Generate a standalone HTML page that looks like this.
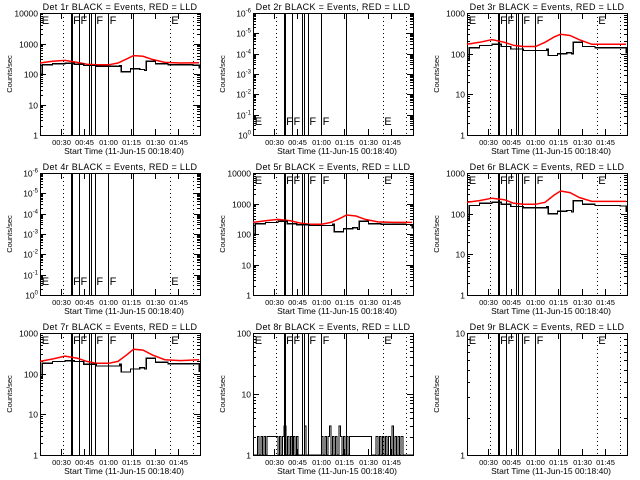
<!DOCTYPE html>
<html><head><meta charset="utf-8"><style>
html,body{margin:0;padding:0;background:#fff;}
svg{display:block;font-family:"Liberation Sans",sans-serif;}
</style></head><body>
<svg id="chart" width="640" height="480" viewBox="0 0 640 480" xmlns="http://www.w3.org/2000/svg"></svg>
<script>
// time knots in minutes since 00:18:40
const blackTimes = [0,1.5,8,16,22,28,36,44,51,52,58,64,67,68,74,82,90,98,102];
const redTimes = [0,8,16,24,30,36,44,50,56,60,66,72,80,90,102];
const det1Black = [100,200,220,225,210,190,180,180,190,120,150,140,130,260,220,200,200,195,150];
const det1Red = [230,260,280,240,210,200,200,230,320,400,380,300,240,230,235];
const det3Black = [70,140,160,170,150,130,120,120,130,90,100,105,100,190,150,140,140,140,100];
const det3Red = [170,190,220,190,160,150,150,190,260,300,280,220,170,170,170];
const det5Black = [100,220,240,260,220,200,190,190,210,120,150,160,140,260,220,210,210,205,150];
const det5Red = [240,270,300,270,230,210,210,240,330,420,390,300,250,240,240];
const det6Black = [70,160,180,190,170,150,140,140,150,100,115,120,110,210,170,160,160,155,110];
const det6Red = [190,210,240,220,180,170,170,190,290,360,330,250,200,200,200];
const det7Black = [80,180,200,210,200,170,155,155,170,110,130,140,130,240,190,175,175,175,110];
const det7Red = [200,230,270,240,200,180,180,200,300,400,380,290,220,210,220];
// det 8: per-minute counts
const det8Black = [1,1,1,2,1,2,1,2,1,2,2,2,2,2,2,2,1,2,1,2,3,1,2,1,2,1,2,1,2,1,1,1,1,3,1,1,1,1,1,1,1,1,1,1,2,1,2,1,2,3,1,2,1,2,1,3,2,1,2,1,2,1,2,2,2,2,2,2,2,2,2,2,2,2,2,2,1,1,1,2,1,2,1,2,1,2,1,2,1,3,1,2,1,2,1,2,1,1,1,1,1,1,1,1];
const tickTimes = [13.5,28.5,43.5,58.5,73.5,88.5];
const tickLabels = ["00:30","00:45","01:00","01:15","01:30","01:45"];
const solidFlagTimes = [19.9,20.5,25,31.4,32.7,35.3,43.6,59.6];
const dottedTimes = [14.7,83.3,98];
const flagTimes = [0.5,20.6,25.3,35.5,44,83.5];
const flagLetters = ["E","F","F","F","F","E"];

const svg = document.getElementById('chart');
const NS = "http://www.w3.org/2000/svg";
function mk(tag, attrs, parent){const e=document.createElementNS(NS,tag);for(const k in attrs)e.setAttribute(k,attrs[k]);(parent||svg).appendChild(e);return e;}

const panels = [
 {n:1,x:40,y:13,dec:4,black:det1Black,red:det1Red,flagY:'top'},
 {n:2,x:253,y:13,dec:6,neg:true,flagY:'low'},
 {n:3,x:467,y:13,dec:3,black:det3Black,red:det3Red,flagY:'top'},
 {n:4,x:40,y:173,dec:6,neg:true,flagY:'low'},
 {n:5,x:253,y:173,dec:4,black:det5Black,red:det5Red,flagY:'top'},
 {n:6,x:467,y:173,dec:3,black:det6Black,red:det6Red,flagY:'top'},
 {n:7,x:40,y:333,dec:3,black:det7Black,red:det7Red,flagY:'top'},
 {n:8,x:253,y:333,dec:2,per:det8Black,flagY:'top'},
 {n:9,x:467,y:333,dec:1,flagY:'top'}
];
const W=160,H=122,PX=1.56;
const snap = v=>Math.round(v)+0.5;

panels.forEach(p=>{
  const g = mk('g',{'shape-rendering':'crispEdges'});
  
  
  const xs = t=>p.x+t*PX;
  const ys = v=>p.y+H-Math.log10(v)/p.dec*H;
  const ti = mk('text',{x:p.x+W/2,y:p.y-3,'text-anchor':'middle','font-size':'9','letter-spacing':'0.3'},g);
  ti.textContent = 'Det '+p.n+'r BLACK = Events, RED = LLD';
  
  
  const box = mk('rect',{x:p.x+0.5,y:p.y+0.5,width:W,height:H,fill:'none',stroke:'#000','stroke-width':1},g);
  
  
  for(let d=0; d<=p.dec; d++){
    const yy = snap(p.y+H-d/p.dec*H);
    mk('line',{x1:p.x,x2:p.x+6,y1:yy,y2:yy,stroke:'#000'},g);
    mk('line',{x1:p.x+W-6,x2:p.x+W,y1:yy,y2:yy,stroke:'#000'},g);
    if(d<p.dec){for(let m=2;m<10;m++){const ym=snap(p.y+H-(d+Math.log10(m))/p.dec*H);
      mk('line',{x1:p.x,x2:p.x+3,y1:ym,y2:ym,stroke:'#000'},g);
      mk('line',{x1:p.x+W-3,x2:p.x+W,y1:ym,y2:ym,stroke:'#000'},g);}}
    const lab = mk('text',{x:p.x-2,y:yy+3,'text-anchor':'end','font-size':'8.5'},g);
    if(p.neg){
      lab.textContent='10';
      const s=mk('tspan',{dy:-4,'font-size':'6'},lab); s.textContent = d==0?'0':'-'+d;
    } else lab.textContent = String(Math.pow(10,d));
    
    
  }
  const yt = mk('text',{transform:`translate(${p.x-28},${p.y+H/2}) rotate(-90)`,'text-anchor':'middle','font-size':'7.5'},g);
  yt.textContent='Counts/sec';
  
  
  tickTimes.forEach((t,i)=>{
    const xx=snap(xs(t));
    mk('line',{x1:xx,x2:xx,y1:p.y+H,y2:p.y+H-6,stroke:'#000'},g);
    mk('line',{x1:xx,x2:xx,y1:p.y,y2:p.y+6,stroke:'#000'},g);
    const lb=mk('text',{x:xx,y:p.y+H+10,'text-anchor':'middle','font-size':'7.5'},g);
    lb.textContent=tickLabels[i];
    
    
  });
  const xt=mk('text',{x:p.x+W/2+4,y:p.y+H+19,'text-anchor':'middle','font-size':'8.5'},g);
  xt.textContent='Start Time (11-Jun-15 00:18:40)';
  
  
  dottedTimes.forEach(t=>{const xx=snap(xs(t));mk('line',{x1:xx,x2:xx,y1:p.y,y2:p.y+H,stroke:'#000','stroke-dasharray':'1,3'},g);});
  solidFlagTimes.forEach(t=>{const xx=snap(xs(t));mk('line',{x1:xx,x2:xx,y1:p.y,y2:p.y+H,stroke:'#000'},g);});
  flagTimes.forEach((t,i)=>{
    const fy = p.flagY==='low' ? p.y+H-10 : p.y+11;
    const f=mk('text',{x:xs(t)+1,y:fy,'font-size':'11'},g);
    f.textContent=flagLetters[i];
    
    
  });
  if(p.red){
    let d='';
    p.red.forEach((v,i)=>{d+=(i?'L':'M')+xs(redTimes[i]).toFixed(1)+','+ys(v).toFixed(1);});
    const r=mk('path',{d:d,fill:'none',stroke:'#ff0000','stroke-width':1.5,'shape-rendering':'auto'},g);
    
    
  }
  if(p.black){
    let d='';
    p.black.forEach((v,i)=>{
      const x=xs(blackTimes[i]).toFixed(1), y=ys(v).toFixed(1);
      if(i===0) d+='M'+x+','+y; else d+='H'+x+'V'+y;
    });
    const b=mk('path',{d:d,fill:'none',stroke:'#000','stroke-width':1.3},g);
    
    
  }
  if(p.per){
    let d='';
    p.per.forEach((v,i)=>{
      const x=xs(i).toFixed(1), y=ys(v).toFixed(1);
      if(i===0) d+='M'+x+','+y; else d+='H'+x+'V'+y;
    });
    const b=mk('path',{d:d,fill:'none',stroke:'#000','stroke-width':1},g);
    
    
  }
});
</script>
</body></html>
